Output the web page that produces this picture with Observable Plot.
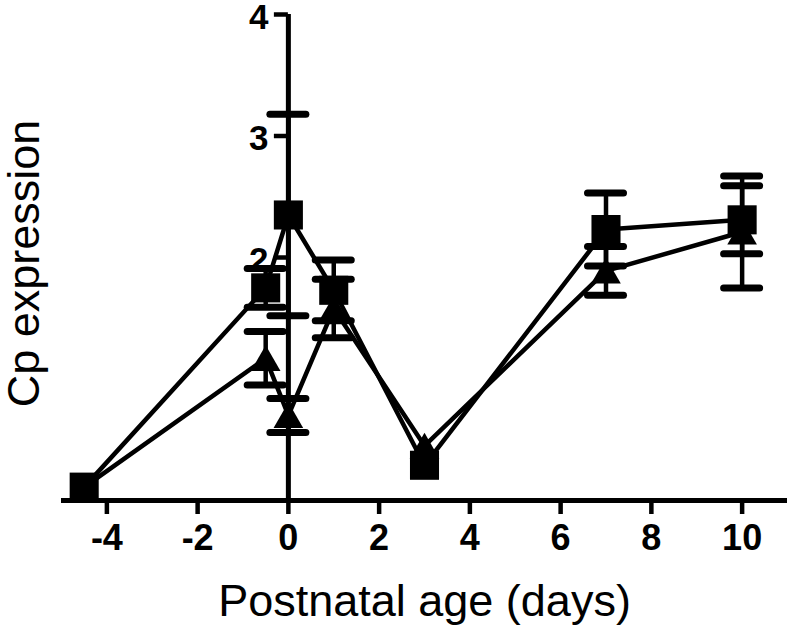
<!DOCTYPE html>
<html>
<head>
<meta charset="utf-8">
<script src="https://cdn.jsdelivr.net/npm/d3@7"></script>
<script src="https://cdn.jsdelivr.net/npm/@observablehq/plot@0.6"></script>
<style>
  html, body { margin: 0; padding: 0; background: #fff; }
  #chart svg { display: block; font-family: "Liberation Sans", Arial, sans-serif; }
</style>
</head>
<body>
<div id="chart"></div>
<script>
// Postnatal age (days)
const ages = [-4.5, -0.5, 0, 1, 3, 7, 10];
// Square series
const squareMean = [0.11, 1.75, 2.35, 1.73, 0.29, 2.23, 2.31];
const squareErr  = [0,    0.16, 0.83, 0.25, 0,    0.30, 0.28];
// Triangle series
const triangleMean = [0.11, 1.17, 0.70, 1.58, 0.45, 1.89, 2.21];
const triangleErr  = [0,    0.22, 0.14, 0.24, 0,    0.20, 0.46];
// Axis ticks
const xTicks = [-4, -2, 0, 2, 4, 6, 8, 10];
const yTicks = [2, 3, 4];

const squares = ages.map((x, i) => ({x, y: squareMean[i], e: squareErr[i]}));
const triangles = ages.map((x, i) => ({x, y: triangleMean[i], e: triangleErr[i]}));

const W = 787, H = 641;
const mL = 61, mR = 0, mT = 14, mB = 141;
const xDomain = [-5, 11];
const pxPerX = (W - mL - mR) / (xDomain[1] - xDomain[0]);
const capHalf = 18 / pxPerX;   // half-width of error bar caps (in x units)
const yTickLen = 14 / pxPerX;

function errorMarks(data) {
  const withErr = data.filter(d => d.e > 0);
  return [
    Plot.ruleX(withErr, {x: "x", y1: d => d.y - d.e, y2: d => d.y + d.e, stroke: "black", strokeWidth: 4.5}),
    Plot.ruleY(withErr, {y: d => d.y + d.e, x1: d => d.x - capHalf, x2: d => d.x + capHalf, stroke: "black", strokeWidth: 7, strokeLinecap: "round"}),
    Plot.ruleY(withErr, {y: d => d.y - d.e, x1: d => d.x - capHalf, x2: d => d.x + capHalf, stroke: "black", strokeWidth: 7, strokeLinecap: "round"})
  ];
}

const plot = Plot.plot({
  width: W,
  height: H,
  marginLeft: mL,
  marginRight: mR,
  marginTop: mT,
  marginBottom: mB,
  style: {fontFamily: "'Liberation Sans', Arial, sans-serif", background: "white"},
  x: {domain: xDomain},
  y: {domain: [0, 4], axis: null},
  marks: [
    // x axis line
    Plot.ruleY([0], {stroke: "black", strokeWidth: 5}),
    // y axis line at x = 0
    Plot.ruleX([0], {y1: 0, y2: 4, stroke: "black", strokeWidth: 5}),
    // x axis ticks + labels
    Plot.axisX({ticks: xTicks, tickFormat: d => String(d).replace("−", "-"), tickSize: 14, strokeWidth: 4.5, tickPadding: 10, fontSize: 36, fontWeight: "bold", label: null}),
    // y ticks at x = 0
    Plot.ruleY(yTicks, {y: d => d, x1: -yTickLen, x2: 0, stroke: "black", strokeWidth: 4.5}),
    Plot.text(yTicks, {x: 0, y: d => d, text: d => String(d), dx: -20, dy: 3, textAnchor: "end", fontSize: 35, fontWeight: "bold", fill: "black"}),
    // triangle series
    Plot.line(triangles, {x: "x", y: "y", stroke: "black", strokeWidth: 4.5}),
    ...errorMarks(triangles),
    Plot.dot(triangles, {x: "x", y: "y", dy: 4, symbol: "triangle", r: 11, fill: "black", stroke: "none"}),
    // square series
    Plot.line(squares, {x: "x", y: "y", stroke: "black", strokeWidth: 4.5}),
    ...errorMarks(squares),
    Plot.dot(squares, {x: "x", y: "y", symbol: "square", r: 16.4, fill: "black", stroke: "none"}),
    // axis titles
    Plot.text(["Postnatal age (days)"], {frameAnchor: "bottom", dy: 115, text: d => d, fontSize: 45, fill: "black"}),
    Plot.text(["Cp expression"], {frameAnchor: "left", dx: -37, dy: 6, rotate: -90, textAnchor: "middle", lineAnchor: "middle", text: d => d, fontSize: 45, fill: "black"})
  ]
});
document.getElementById("chart").appendChild(plot);
</script>
</body>
</html>
